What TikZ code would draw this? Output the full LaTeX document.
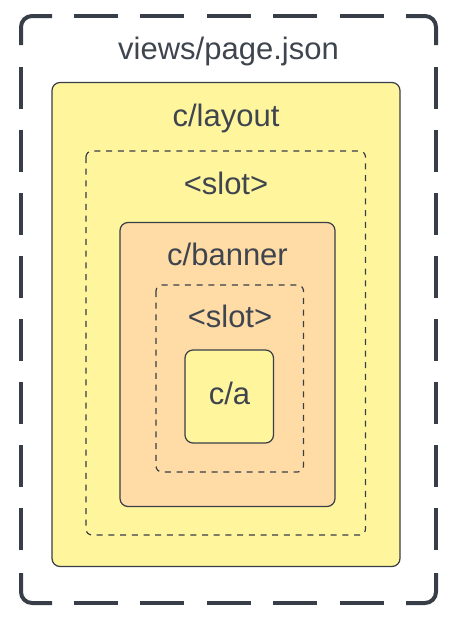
\documentclass[tikz,border=0pt]{standalone}
\usepackage{fontspec}
\setmainfont{Liberation Sans}
\definecolor{txtc}{RGB}{63,69,79}
\definecolor{linec}{RGB}{56,62,71}
\definecolor{yel}{RGB}{255,245,157}
\definecolor{peach}{RGB}{255,220,166}
\tikzset{
  outerdash/.style={draw=linec, line width=4pt},
  solidbox/.style={draw=linec, line width=1.2pt, rounded corners=8pt},
  slotbox/.style={draw=linec, line width=1.2pt, rounded corners=6pt, dash pattern=on 6pt off 5.7pt},
  lbl/.style={text=txtc, font=\fontsize{31}{36}\selectfont, anchor=base, inner sep=0pt}
}
\begin{document}
\begin{tikzpicture}[x=1pt,y=-1pt]
\useasboundingbox (0,0) rectangle (454,622);
% outer dashed frame
\draw[outerdash, rounded corners=11pt] (52,16) -- (21,16) -- (21,45);
\draw[outerdash, rounded corners=11pt] (406,16) -- (436,16) -- (436,45);
\draw[outerdash, rounded corners=11pt] (21,573) -- (21,603) -- (52,603);
\draw[outerdash, rounded corners=11pt] (406,603) -- (436,603) -- (436,573);
\foreach \x in {74,140,207,273,340} {
  \draw[outerdash] (\x,16) -- ++(44,0);
  \draw[outerdash] (\x,603) -- ++(44,0);
}
\foreach \y in {67,130,193,256,319,382,445,508} {
  \draw[outerdash] (21,\y) -- ++(0,42);
  \draw[outerdash] (436,\y) -- ++(0,42);
}
\node[lbl] (page) at (228.5,59) {views/page.json};
% layout
\draw[solidbox, fill=yel] (52,82.5) rectangle (400,566.5);
\node[lbl] (layout) at (226,126) {c/layout};
\draw[slotbox] (86,151) rectangle (365.5,535);
\node[lbl] (slot1) at (226,194) {<slot>};
% banner
\draw[solidbox, fill=peach] (120,222.5) rectangle (335,506.5);
\node[lbl] (banner) at (227.5,265) {c/banner};
\draw[slotbox] (156,285) rectangle (303.5,472);
\node[lbl] (slot2) at (230,327) {<slot>};
% c/a
\draw[solidbox, fill=yel] (185,350) rectangle (273.5,443);
\node[lbl] (ca) at (229.5,404) {c/a};
\end{tikzpicture}
\end{document}
